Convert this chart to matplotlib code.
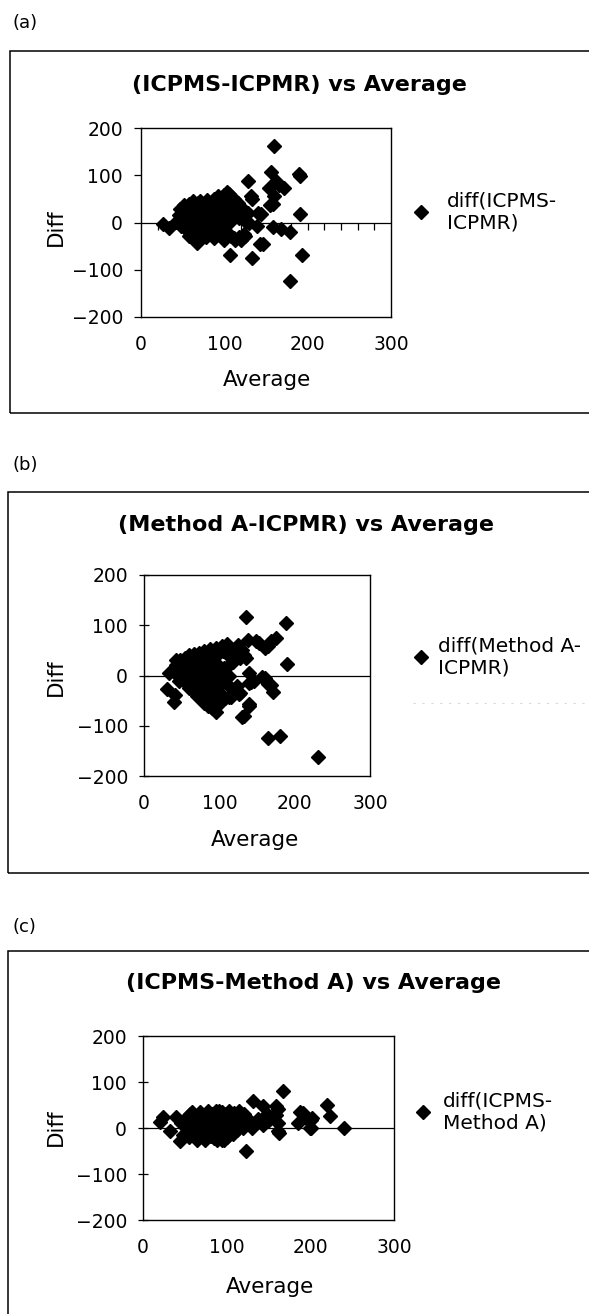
import numpy as np
import matplotlib
matplotlib.use("Agg")
import matplotlib.pyplot as plt
from matplotlib.patches import Rectangle
from matplotlib.lines import Line2D

# ---------------- data ----------------
panel_tags = ["(a)", "(b)", "(c)"]
titles = ["(ICPMS-ICPMR) vs Average",
          "(Method A-ICPMR) vs Average",
          "(ICPMS-Method A) vs Average"]
legend_labels = ["diff(ICPMS-\nICPMR)",
                 "diff(Method A-\nICPMR)",
                 "diff(ICPMS-\nMethod A)"]
x_label = "Average"
y_label = "Diff"
x_ticks = [0, 100, 200, 300]
y_ticks = [-200, -100, 0, 100, 200]

# (a) ICPMS-ICPMR
avg_a = [26, 34, 160, 156, 189, 191, 162, 128, 172, 154, 166, 160, 158, 155, 132, 133,
         140, 144, 191, 139, 158, 168, 179, 146, 143, 193, 179, 107, 133, 120, 124, 112,
         42, 45, 48, 50, 52, 54, 55, 57, 58, 60, 61, 62, 63, 64, 66, 66, 67, 68, 69, 70,
         71, 72, 73, 74, 75, 76, 77, 78, 80, 80, 82, 83, 84, 85, 86, 88, 88, 90, 90, 92,
         93, 94, 95, 96, 97, 98, 100, 100, 101, 103, 104, 106, 107, 108, 110, 110, 113, 115,
         117, 118, 120, 122, 125, 126, 99, 87, 67, 47, 53, 58, 62, 71, 79, 87, 92, 112,
         116, 128, 130,
         56, 59, 64, 69, 72, 76, 81, 84, 89, 91, 95, 102, 105, 109, 114, 119, 65, 78, 93, 102]
diff_a = [-3, -12, 162, 106, 102, 98, 88, 88, 74, 74, 80, 56, 40, 38, 56, 50,
          21, 18, 19, -8, -9, -14, -20, -46, -46, -68, -124, -68, -76, 32, -25, -32,
          2, 15, -8, 30, 38, 5, -15, 22, 40, -2, -22, 12, 32, -32, -40, 5, 22, 42, -12, 14,
          -28, 30, -2, -20, 18, 40, -8, 28, 6, -22, 36, -12, 16, 42, -28, 24, 2, 34, -16, 10,
          46, -24, 26, -2, 52, -32, 14, 58, -20, 64, 34, 60, 2, -28, 44, 20, -36, 28,
          10, -30, -36, 14, -29, 2, -36, -32, -43, 28, -12, -28, 45, 46, 48, 50, 56, 50,
          42, 20, -2,
          28, 8, 20, 32, -10, 5, 20, -2, 38, -4, 12, 0, 22, 8, 16, 24, -18, -30, 28, 45]

# (b) Method A-ICPMR
avg_b = [136, 188, 138, 149, 153, 160, 164, 168, 175, 190, 133, 118, 140, 157, 160, 164,
         168, 171, 140, 113, 128, 126, 140, 139, 133, 130, 165, 180, 231, 30, 41, 40,
         33, 42, 96, 115, 106, 142, 146,
         38, 42, 45, 46, 48, 50, 52, 54, 55, 56, 58, 60, 60, 62, 63, 65, 66, 67, 68, 70,
         70, 72, 73, 74, 75, 76, 78, 79, 80, 80, 82, 83, 84, 85, 86, 87, 88, 89, 90, 91,
         92, 93, 95, 96, 98, 99, 100, 101, 103, 104, 108, 110, 112, 113, 115, 122, 124, 125,
         128, 130, 135,
         57, 61, 64, 69, 71, 77, 81, 85, 88, 91, 94, 97, 102, 105, 109, 114, 84, 79]
diff_b = [117, 105, 71, 68, 64, 55, 58, 68, 75, 23, 41, 27, 5, -2, -5, -16,
          -19, -32, -15, -42, -35, -36, -60, -56, -81, -82, -124, -120, -163, -26, -39, -52,
          5, 31, -72, -42, 15, -12, -10,
          10, 20, 0, -10, 30, 15, -5, 35, 20, -15, 5, 40, -25, 25, 10, -5, 42, -30, 30, 15,
          -40, 0, 45, -20, 25, -45, 10, 48, -10, -55, 35, -30, 20, -60, 0, 52, -40, 15, -65, 40,
          -20, -50, 55, 25, -30, 5, 45, -55, 58, -15, -45, 62, 40, 0, -25, 45, -20, 60,
          35, 50, 35,
          28, -8, 18, 2, 32, -28, 12, 28, -12, -35, 10, -45, -5, 48, 15, 50, -45, -38]

# (c) ICPMS-Method A
avg_c = [24, 20, 32, 40, 44, 123, 132, 143, 167, 159, 161, 159, 161, 163, 161, 151,
         143, 156, 188, 191, 185, 195, 201, 202, 200, 201, 220, 224, 240, 130, 138, 148,
         45, 48, 50, 52, 55, 56, 58, 60, 62, 64, 65, 67, 68, 70, 71, 73, 74, 75, 76, 78,
         79, 80, 82, 83, 84, 86, 87, 88, 89, 90, 92, 93, 94, 95, 96, 98, 99, 100, 101, 103,
         104, 106, 107, 109, 110, 112, 114, 115, 117, 119, 121, 123, 125, 58, 66, 91, 97, 85,
         53, 57, 61, 63, 69, 72, 77, 81, 85, 88, 91, 97, 102, 105, 108, 111, 116, 118]
diff_c = [25, 14, -7, 25, -29, -51, 59, 47, 81, 47, 41, 29, 11, -11, -6, 18,
          7, 28, 34, 33, 11, 22, 18, 22, 0, 0, 51, 27, 1, 0, 20, 30,
          10, -15, 20, 0, -20, 30, 10, -10, 25, 0, -25, 15, 35, -15, 5, 28, -27, -5, 18, 38,
          -18, 8, 30, -10, 20, 0, 38, -25, 12, 28, -15, 5, -27, 35, 18, -8, 25, -20, 10, 38,
          0, 22, -12, 32, 8, -5, 25, 38, 15, 0, 30, 10, 20, 35, -5, 38, -25, -22,
          12, -5, 18, -18, 25, -20, 10, -18, 12, 30, -8, 30, 18, -10, 15, 28, 5, 25]

avgs = [avg_a, avg_b, avg_c]
diffs = [diff_a, diff_b, diff_c]

# ---------------- layout (pixels) ----------------
W, H, DPI = 589, 1314, 100
plt.rcParams['font.family'] = ['DejaVu Sans']


def fx(px):
    return px / W


def fy(py):
    return 1 - py / H


layouts = [
    dict(ax=(141, 128, 391, 317), box=(10, 51, 640, 413), tag=23, title=(299, 85),
         xlab=(267, 380), ylab=(56, 227), leg=(411, 212), pad=0.8, zero_ticks=True, ydir='out'),
    dict(ax=(144, 575, 370, 776), box=(8, 492, 640, 873), tag=465, title=(306, 525),
         xlab=(255, 840), ylab=(56, 677), leg=(411, 657), pad=0.35, zero_ticks=False, ydir='inout'),
    dict(ax=(143, 1036, 394, 1220), box=(8, 951, 640, 1340), tag=927, title=(314, 983),
         xlab=(270, 1287), ylab=(56, 1127), leg=(413, 1112), pad=0.5, zero_ticks=False, ydir='inout'),
]

fig = plt.figure(figsize=(W / DPI, H / DPI), dpi=DPI)

for i, lay in enumerate(layouts):
    # outer frame
    x0, y0, x1, y1 = lay['box']
    fig.add_artist(Rectangle((fx(x0), fy(y1)), fx(x1) - fx(x0), fy(y0) - fy(y1),
                             transform=fig.transFigure, fill=False, ec='black', lw=1.1,
                             clip_on=False))
    fig.text(fx(13), fy(lay['tag']), panel_tags[i], ha='left', va='center', fontsize=13)
    fig.text(fx(lay['title'][0]), fy(lay['title'][1]), titles[i], ha='center', va='center',
             fontsize=16, fontweight='bold')

    l, t, r, b = lay['ax']
    ax = fig.add_axes([fx(l), fy(b), fx(r) - fx(l), (b - t) / H])
    ax.plot(avgs[i], diffs[i], ls='none', marker='D', ms=7.5, color='black', mec='black',
            zorder=3)
    ax.axhline(0, color='black', lw=0.9, zorder=2)
    if lay['zero_ticks']:
        ax.vlines(np.arange(20, 300, 20), -15, 0, colors='black', lw=0.9, zorder=2)
    ax.set_xlim(0, 300)
    ax.set_ylim(-200, 200)
    ax.set_xticks(x_ticks)
    ax.set_yticks(y_ticks)
    ax.set_yticklabels([f"{v}".replace('-', '\u2212') for v in y_ticks])
    ax.tick_params(axis='x', length=0, pad=13, labelsize=13.5)
    ax.tick_params(axis='y', direction=lay['ydir'], length=7 if lay['ydir'] == 'inout' else 5,
                   width=0.9, pad=8, labelsize=13.5)
    for sp in ax.spines.values():
        sp.set_linewidth(1.0)
        sp.set_color('black')

    fig.text(fx(lay['xlab'][0]), fy(lay['xlab'][1]), x_label, ha='center', va='center',
             fontsize=15.5)
    fig.text(fx(lay['ylab'][0]), fy(lay['ylab'][1]), y_label, ha='center', va='center',
             fontsize=15.5, rotation=90)

    handle = Line2D([], [], ls='none', marker='D', ms=7, color='black')
    fig.legend([handle], [legend_labels[i]], loc='center left',
               bbox_to_anchor=(fx(lay['leg'][0]), fy(lay['leg'][1])),
               bbox_transform=fig.transFigure, frameon=False, borderpad=0,
               borderaxespad=0, handlelength=1.0, handletextpad=lay['pad'],
               fontsize=14.5, labelspacing=0.3)

# faint scan artefact line in panel (b)
fig.add_artist(Line2D([fx(413), fx(589)], [fy(703), fy(703)], transform=fig.transFigure,
                      color='#d8d8d8', lw=0.8, ls=(0, (2, 6))))

fig.savefig('out.png', dpi=DPI)
